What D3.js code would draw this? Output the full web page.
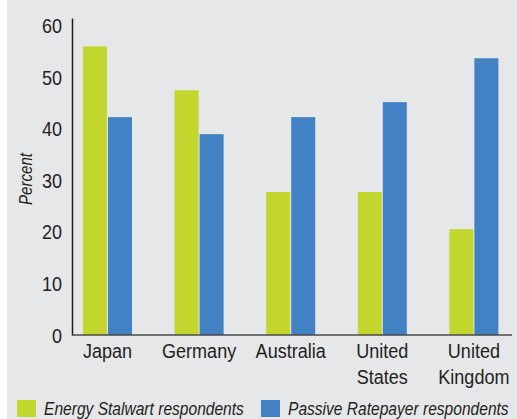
<!DOCTYPE html>
<html>
<head>
<meta charset="utf-8">
<script src="https://cdn.jsdelivr.net/npm/d3@7"></script>
<style>
  html, body { margin: 0; padding: 0; background: #ffffff; }
  svg { display: block; }
  text { font-family: "Liberation Sans", Arial, sans-serif; fill: #231f20; }
</style>
</head>
<body>
<div id="chart"></div>
<script>
const categories = ["Japan", "Germany", "Australia", "United States", "United Kingdom"];
const seriesNames = ["Energy Stalwart respondents", "Passive Ratepayer respondents"];
const stalwartValues = [55.9, 47.4, 27.7, 27.7, 20.5];
const ratepayerValues = [42.2, 38.9, 42.2, 45.1, 53.6];
const yTicks = [0, 10, 20, 30, 40, 50, 60];
const colors = ["#c2d62e", "#4181c4"];

const W = 517, H = 419;
const FONT = '"Liberation Sans", Arial, sans-serif';
const svg = d3.select("#chart").append("svg").attr("width", W).attr("height", H);

svg.append("rect").attr("x", 7).attr("y", 0).attr("width", W - 7).attr("height", H).attr("fill", "#e6e7e9");

const y = d3.scaleLinear().domain([0, 61.4]).range([335, 18]);
const x0 = d3.scaleBand().domain(categories).range([61.7, 519.7]).padding(0);
const bw = x0.bandwidth();
const x1 = d3.scaleBand().domain(seriesNames).range([bw / 2 - 24.5, bw / 2 + 24.5]).paddingInner(0.04);

const data = categories.map((c, i) => ({ cat: c, vals: [stalwartValues[i], ratepayerValues[i]] }));

const groups = svg.append("g").selectAll("g").data(data).join("g")
  .attr("transform", d => `translate(${x0(d.cat)},0)`);
groups.selectAll("rect").data(d => d.vals.map((v, j) => ({ s: seriesNames[j], v, j })))
  .join("rect")
  .attr("x", d => x1(d.s))
  .attr("width", x1.bandwidth())
  .attr("y", d => y(d.v))
  .attr("height", d => y(0) - y(d.v))
  .attr("fill", d => colors[d.j]);

// y axis
const yAxis = d3.axisLeft(y).tickValues(yTicks).tickSize(0).tickPadding(0).tickFormat(d3.format("d"));
const gy = svg.append("g").attr("transform", "translate(72,0)").call(yAxis);
gy.select(".domain").attr("stroke", "#231f20").attr("stroke-width", 1.5);
gy.selectAll(".tick text")
  .attr("x", 0).attr("dy", "0.36em")
  .attr("transform", "translate(-10,0) scale(0.9,1)")
  .attr("font-size", 20).attr("fill", "#231f20")
  .style("font-family", FONT);

// baseline
svg.append("line").attr("x1", 72).attr("x2", 512).attr("y1", y(0)).attr("y2", y(0))
  .attr("stroke", "#4a4a4a").attr("stroke-width", 1.5);

// x labels
const xl = svg.append("g").selectAll("text").data(categories).join("text")
  .attr("text-anchor", "middle")
  .attr("font-size", 21)
  .attr("transform", d => `translate(${x0(d) + bw / 2},358) scale(0.86,1)`);
xl.selectAll("tspan").data(d => d.split(" ")).join("tspan")
  .attr("x", 0).attr("dy", (d, i) => i === 0 ? 0 : 26).text(d => d);

// y title
svg.append("text").attr("transform", "translate(32,179) rotate(-90) scale(0.84,1)")
  .attr("text-anchor", "middle").attr("font-size", 18).attr("font-style", "italic").text("Percent");

// legend
const legendX = [17, 261];
const lg = svg.append("g").selectAll("g").data(seriesNames).join("g")
  .attr("transform", (d, i) => `translate(${legendX[i]},400)`);
lg.append("rect").attr("width", 19).attr("height", 17).attr("fill", (d, i) => colors[i]);
lg.append("text").attr("transform", "translate(27,15) scale(0.82,1)")
  .attr("font-size", 19).attr("font-style", "italic").text(d => d);
</script>
</body>
</html>
